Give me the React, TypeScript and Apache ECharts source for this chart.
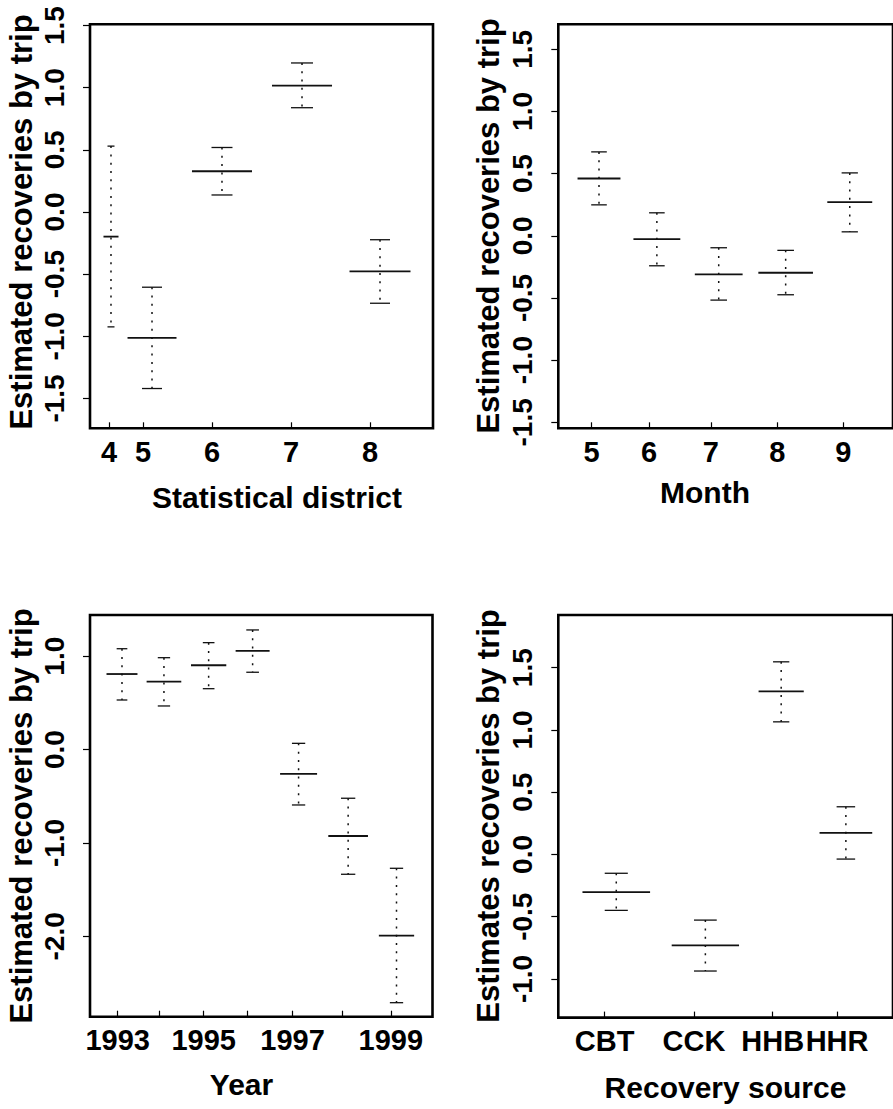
import React, { useEffect, useRef } from 'react';
import * as echarts from 'echarts';

// ---------- Panel 1: statistical district ----------
const districtLabels = ['4', '5', '6', '7', '8'];
const districtTickPos = [0.554, 1.545, 3.557, 5.86, 8.163];
const districtPos = [0.612, 1.808, 3.848, 6.181, 8.455];
const districtEst = [-0.198, -1.013, 0.328, 1.016, -0.478];
const districtLow = [-0.924, -1.42, 0.137, 0.839, -0.734];
const districtHigh = [0.53, -0.605, 0.519, 1.199, -0.223];
const districtSpread = [0.219, 0.714, 0.875, 0.875, 0.889];
const districtCap = [0.102, 0.292, 0.306, 0.321, 0.292];
const districtYTicks = [-1.5, -1.0, -0.5, 0.0, 0.5, 1.0, 1.5];

// ---------- Panel 2: month ----------
const monthLabels = ['5', '6', '7', '8', '9'];
const monthTickPos = [0.991, 2.711, 4.56, 6.542, 8.513];
const monthPos = [1.216, 2.945, 4.793, 6.793, 8.708];
const monthEst = [0.461, -0.027, -0.31, -0.297, 0.271];
const monthLow = [0.249, -0.241, -0.517, -0.474, 0.032];
const monthHigh = [0.675, 0.185, -0.096, -0.117, 0.506];
const monthSpread = [0.641, 0.7, 0.714, 0.816, 0.671];
const monthCap = [0.233, 0.233, 0.248, 0.248, 0.243];
const monthYTicks = [-1.5, -1.0, -0.5, 0.0, 0.5, 1.0, 1.5];

// ---------- Panel 3: year ----------
const yearLabels = ['1993', '1994', '1995', '1996', '1997', '1998', '1999'];
const yearShownLabels = ['1993', '1995', '1997', '1999'];
const yearTickPos = [0.808, 2.013, 3.318, 4.602, 5.915, 7.354, 8.784];
const yearPos = [0.934, 2.159, 3.464, 4.748, 6.09, 7.537, 8.949];
const yearEst = [0.809, 0.727, 0.903, 1.056, -0.261, -0.925, -1.993];
const yearLow = [0.531, 0.467, 0.652, 0.828, -0.593, -1.335, -2.71];
const yearHigh = [1.08, 0.984, 1.145, 1.281, 0.067, -0.521, -1.271];
const yearSpread = [0.452, 0.506, 0.515, 0.496, 0.54, 0.579, 0.515];
const yearCap = [0.156, 0.18, 0.17, 0.185, 0.194, 0.209, 0.194];
const yearYTicks = [-2.0, -1.0, 0.0, 1.0];

// ---------- Panel 4: recovery source ----------
const sourceLabels = ['CBT', 'CCK', 'HHB', 'HHR'];
const sourceTickPos = [1.382, 4.052, 6.405, 8.329];
const sourcePos = [1.732, 4.394, 6.659, 8.592];
const sourceEst = [-0.303, -0.73, 1.309, 0.174];
const sourceLow = [-0.449, -0.936, 1.065, -0.037];
const sourceHigh = [-0.151, -0.527, 1.547, 0.383];
const sourceSpread = [1.01, 1.006, 0.675, 0.787];
const sourceCap = [0.345, 0.34, 0.243, 0.277];
const sourceYTicks = [-1.0, -0.5, 0.0, 0.5, 1.0, 1.5];

const FONT = '"Liberation Sans", Arial, Helvetica, sans-serif';

function rows(pos: number[], est: number[], lo: number[], hi: number[], spread: number[], cap: number[]) {
  return pos.map((p, i) => [p, est[i], lo[i], hi[i], spread[i], cap[i]]);
}

function labelFor(ticks: number[], labels: string[]) {
  return (v: number) => {
    let best = 0;
    let d = Infinity;
    ticks.forEach((t, i) => {
      const dd = Math.abs(t - v);
      if (dd < d) {
        d = dd;
        best = i;
      }
    });
    return labels[best];
  };
}

const renderItem = (params: any, api: any) => {
  const x = api.value(0);
  const mid = api.value(1);
  const lo = api.value(2);
  const hi = api.value(3);
  const hw = api.value(4);
  const cw = api.value(5);
  const pLo = api.coord([x, lo]);
  const pHi = api.coord([x, hi]);
  const mL = api.coord([x - hw, mid]);
  const mR = api.coord([x + hw, mid]);
  const cL = api.coord([x - cw, lo]);
  const cR = api.coord([x + cw, lo]);
  const col = '#111';
  return {
    type: 'group',
    children: [
      {
        type: 'line',
        shape: { x1: pHi[0], y1: pHi[1], x2: pLo[0], y2: pLo[1] },
        style: { stroke: col, lineWidth: 1.5, lineDash: [2, 6.3] },
      },
      {
        type: 'line',
        shape: { x1: cL[0], y1: pHi[1], x2: cR[0], y2: pHi[1] },
        style: { stroke: col, lineWidth: 1.3 },
      },
      {
        type: 'line',
        shape: { x1: cL[0], y1: pLo[1], x2: cR[0], y2: pLo[1] },
        style: { stroke: col, lineWidth: 1.3 },
      },
      {
        type: 'line',
        shape: { x1: mL[0], y1: mL[1], x2: mR[0], y2: mR[1] },
        style: { stroke: col, lineWidth: 1.8 },
      },
    ],
  };
};

type PanelDef = {
  grid: { left: number; top: number; width: number; height: number };
  yMin: number;
  yMax: number;
  yTicks: number[];
  xTicks: number[];
  xLabelTicks: number[];
  xLabels: string[];
  data: number[][];
};

const panels: PanelDef[] = [
  {
    grid: { left: 90, top: 24.3, width: 343, height: 404 },
    yMin: -1.74,
    yMax: 1.51,
    yTicks: districtYTicks,
    xTicks: districtTickPos,
    xLabelTicks: districtTickPos,
    xLabels: districtLabels,
    data: rows(districtPos, districtEst, districtLow, districtHigh, districtSpread, districtCap),
  },
  {
    grid: { left: 558.3, top: 24.3, width: 343, height: 404 },
    yMin: -1.548,
    yMax: 1.701,
    yTicks: monthYTicks,
    xTicks: monthTickPos,
    xLabelTicks: monthTickPos,
    xLabels: monthLabels,
    data: rows(monthPos, monthEst, monthLow, monthHigh, monthSpread, monthCap),
  },
  {
    grid: { left: 90, top: 615, width: 342.5, height: 401.7 },
    yMin: -2.86,
    yMax: 1.441,
    yTicks: yearYTicks,
    xTicks: yearTickPos,
    xLabelTicks: yearShownLabels.map((l) => yearTickPos[yearLabels.indexOf(l)]),
    xLabels: yearShownLabels,
    data: rows(yearPos, yearEst, yearLow, yearHigh, yearSpread, yearCap),
  },
  {
    grid: { left: 558.3, top: 615, width: 343, height: 402.6 },
    yMin: -1.31,
    yMax: 1.923,
    yTicks: sourceYTicks,
    xTicks: sourceTickPos,
    xLabelTicks: sourceTickPos,
    xLabels: sourceLabels,
    data: rows(sourcePos, sourceEst, sourceLow, sourceHigh, sourceSpread, sourceCap),
  },
];

const yTitles = [
  { text: 'Estimated recoveries by trip', x: 21, y: 222 },
  { text: 'Estimated recoveries by trip', x: 488, y: 226 },
  { text: 'Estimated recoveries by trip', x: 21, y: 816 },
  { text: 'Estimates recoveries by trip', x: 488, y: 816 },
];
const xTitles = [
  { text: 'Statistical district', x: 277, y: 497 },
  { text: 'Month', x: 705, y: 492 },
  { text: 'Year', x: 241.5, y: 1084 },
  { text: 'Recovery source', x: 725.5, y: 1087 },
];

function buildOption() {
  return {
    animation: false,
    backgroundColor: '#fff',
    grid: panels.map((p) => ({
      ...p.grid,
      show: true,
      borderColor: '#000',
      borderWidth: 2.6,
      backgroundColor: 'transparent',
      containLabel: false,
    })),
    xAxis: panels.map((p, i) => ({
      type: 'value',
      gridIndex: i,
      min: 0,
      max: 10,
      position: 'bottom',
      axisLine: { show: false, onZero: false },
      splitLine: { show: false },
      axisTick: {
        show: true,
        inside: true,
        length: 6,
        customValues: p.xTicks,
        lineStyle: { color: '#000', width: 1.2 },
      },
      axisLabel: {
        show: true,
        customValues: p.xLabelTicks,
        formatter: labelFor(p.xLabelTicks, p.xLabels),
        margin: 9,
        color: '#000',
        fontFamily: FONT,
        fontWeight: 'bold',
        fontSize: 29,
      },
    })),
    yAxis: panels.map((p, i) => ({
      type: 'value',
      gridIndex: i,
      min: p.yMin,
      max: p.yMax,
      position: 'left',
      axisLine: { show: false, onZero: false },
      splitLine: { show: false },
      axisTick: {
        show: true,
        inside: false,
        length: 7,
        customValues: p.yTicks,
        lineStyle: { color: '#000', width: 1.2 },
      },
      axisLabel: {
        show: true,
        customValues: p.yTicks,
        formatter: (v: number) => v.toFixed(1),
        rotate: 90,
        margin: 22,
        color: '#000',
        fontFamily: FONT,
        fontWeight: 'bold',
        fontSize: 28,
      },
    })),
    series: panels.map((p, i) => ({
      type: 'custom',
      xAxisIndex: i,
      yAxisIndex: i,
      renderItem,
      encode: { x: 0, y: [1, 2, 3] },
      data: p.data,
      silent: true,
    })),
    graphic: [
      ...yTitles.map((t) => ({
        type: 'text',
        x: t.x,
        y: t.y,
        rotation: Math.PI / 2,
        silent: true,
        style: {
          text: t.text,
          fill: '#000',
          fontFamily: FONT,
          fontWeight: 'bold',
          fontSize: 31,
          align: 'center',
          verticalAlign: 'middle',
        },
      })),
      ...xTitles.map((t) => ({
        type: 'text',
        x: t.x,
        y: t.y,
        silent: true,
        style: {
          text: t.text,
          fill: '#000',
          fontFamily: FONT,
          fontWeight: 'bold',
          fontSize: 30,
          align: 'center',
          verticalAlign: 'middle',
        },
      })),
    ],
  };
}

export default function App() {
  const ref = useRef<HTMLDivElement>(null);
  useEffect(() => {
    if (!ref.current) return;
    const chart = echarts.init(ref.current, null, { renderer: 'svg' });
    chart.setOption(buildOption() as any);
    return () => chart.dispose();
  }, []);
  return (
    <div
      ref={ref}
      style={{ position: 'absolute', left: 0, top: 0, width: 893, height: 1109, background: '#fff', overflow: 'hidden' }}
    />
  );
}
